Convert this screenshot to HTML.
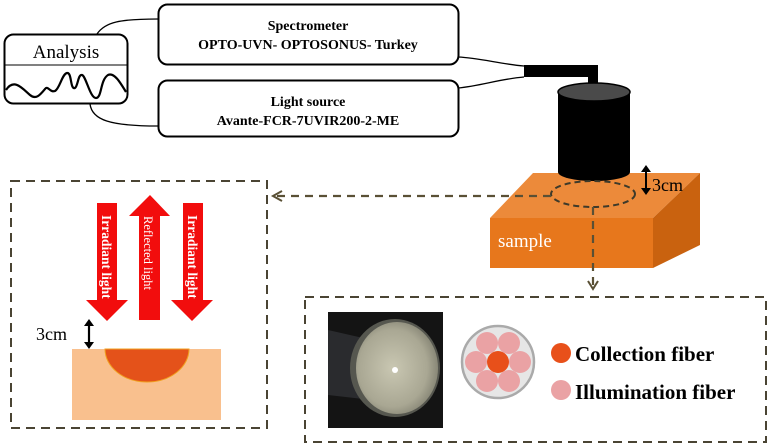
<!DOCTYPE html>
<html><head><meta charset="utf-8"><style>
html,body{margin:0;padding:0;background:#fff;}
svg{display:block;}
</style></head><body>
<svg width="772" height="448" viewBox="0 0 772 448" xmlns="http://www.w3.org/2000/svg">
<defs>
<radialGradient id="face" cx="0.45" cy="0.5" r="0.6">
<stop offset="0" stop-color="#c9c7b2"/><stop offset="0.7" stop-color="#a9a793"/><stop offset="1" stop-color="#7c7b6c"/>
</radialGradient>
</defs>
<path d="M97 34 C105 22,120 19,158 19" fill="none" stroke="#000" stroke-width="1.3"/>
<path d="M90 104 C92 120,110 126,158 126" fill="none" stroke="#000" stroke-width="1.3"/>
<path d="M458 57 C480 58,500 64,524 66" fill="none" stroke="#000" stroke-width="1.3"/>
<path d="M458 88 C480 86,500 79,524 77" fill="none" stroke="#000" stroke-width="1.3"/>
<rect x="4.5" y="34.5" width="123" height="69" rx="9" fill="#fff" stroke="#000" stroke-width="2"/>
<line x1="5" y1="65" x2="127" y2="65" stroke="#000" stroke-width="1"/>
<text x="66" y="58" font-family="Liberation Serif, serif" font-size="19" text-anchor="middle">Analysis</text>
<path d="M6 90 C14 78,22 88,30 95 C36 100,40 95,45 89 C48 85,50 93,55 91 C60 88,62 74,67 73 C72 72,70 90,75 88 C78 86,78 74,82 75 C86 76,90 98,96 98 C102 98,100 80,108 75 C114 72,120 82,126 92" fill="none" stroke="#000" stroke-width="2.2"/>
<rect x="158.5" y="4.5" width="300" height="60" rx="9" fill="#fff" stroke="#000" stroke-width="2"/>
<text x="308" y="30" font-family="Liberation Serif, serif" font-size="14" font-weight="bold" text-anchor="middle">Spectrometer</text>
<text x="308" y="49" font-family="Liberation Serif, serif" font-size="14" font-weight="bold" text-anchor="middle">OPTO-UVN- OPTOSONUS- Turkey</text>
<rect x="158.5" y="80.5" width="300" height="56" rx="9" fill="#fff" stroke="#000" stroke-width="2"/>
<text x="308" y="106" font-family="Liberation Serif, serif" font-size="14" font-weight="bold" text-anchor="middle">Light source</text>
<text x="308" y="125" font-family="Liberation Serif, serif" font-size="14" font-weight="bold" text-anchor="middle">Avante-FCR-7UVIR200-2-ME</text>
<rect x="524" y="65" width="74" height="12" fill="#000"/>
<rect x="588" y="65" width="10" height="27" fill="#000"/>
<polygon points="490,218 533,173 700,173 653,218" fill="#ec8a3a"/>
<polygon points="653,218 700,173 700,245 653,268" fill="#c9620f"/>
<rect x="490" y="218" width="163" height="50" fill="#e7771c"/>
<text x="498" y="247" font-family="Liberation Serif, serif" font-size="19" fill="#fff">sample</text>
<path d="M558 92 L558 172 A36 9 0 0 0 630 172 L630 92 Z" fill="#000"/>
<ellipse cx="594" cy="92" rx="36" ry="9" fill="#4a4a4a" stroke="#000" stroke-width="1.5"/>
<line x1="646" y1="170" x2="646" y2="190" stroke="#000" stroke-width="2"/>
<polygon points="641,172 651,172 646,165" fill="#000"/>
<polygon points="641,188 651,188 646,195" fill="#000"/>
<text x="652" y="191" font-family="Liberation Serif, serif" font-size="18">3cm</text>
<ellipse cx="593" cy="194" rx="42" ry="13" fill="none" stroke="#3e3a2a" stroke-width="2" stroke-dasharray="6,4"/>
<line x1="551" y1="196" x2="272" y2="196" stroke="#5a5035" stroke-width="2.2" stroke-dasharray="8,6"/>
<polyline points="282,191 273,196 282,201" fill="none" stroke="#5a5035" stroke-width="2"/>
<line x1="593" y1="207" x2="593" y2="285" stroke="#5a5035" stroke-width="2.2" stroke-dasharray="8,6"/>
<polyline points="588,281 593,289 598,281" fill="none" stroke="#5a5035" stroke-width="2"/>
<rect x="11" y="181" width="256" height="247" fill="none" stroke="#4a4433" stroke-width="2" stroke-dasharray="9,6"/>
<polygon points="97,203 117,203 117,300 128,300 107,321 86,300 97,300" fill="#f20d0d"/>
<polygon points="183,203 203,203 203,300 213,300 192,321 171,300 183,300" fill="#f20d0d"/>
<polygon points="150,195 170,216 160,216 160,320 139,320 139,216 129,216" fill="#f20d0d"/>
<g font-family="Liberation Serif, serif" font-weight="bold" font-size="13.5" fill="#fff">
<text transform="translate(102,215) rotate(90)">Irradiant light</text>
<text transform="translate(188,215) rotate(90)">Irradiant light</text>
<text transform="translate(144,216) rotate(90)" font-weight="normal" font-size="12.5">Reflected light</text>
</g>
<text x="36" y="340" font-family="Liberation Serif, serif" font-size="18">3cm</text>
<line x1="89" y1="324" x2="89" y2="344" stroke="#000" stroke-width="2.2"/>
<polygon points="84,326 94,326 89,319" fill="#000"/>
<polygon points="84,342 94,342 89,349" fill="#000"/>
<rect x="72" y="349" width="149" height="71" fill="#f9c08e"/>
<path d="M105 349 A42 33 0 0 0 189 349 Z" fill="#e4521a" stroke="#f0a020" stroke-width="1"/>
<rect x="305" y="297" width="461" height="145" fill="none" stroke="#4a4433" stroke-width="2" stroke-dasharray="9,6"/>
<rect x="328" y="312" width="115" height="116" fill="#141414"/>
<path d="M328 330 L372 340 L372 400 L328 395 Z" fill="#2a2b2e"/>
<ellipse cx="395" cy="368" rx="45" ry="49" fill="#56574f"/>
<ellipse cx="397" cy="368" rx="41" ry="46" fill="url(#face)"/>
<circle cx="395" cy="370" r="3" fill="#fff"/>
<circle cx="498" cy="362" r="36" fill="#e6e6e6" stroke="#aaa" stroke-width="2.5"/>
<g fill="#eaa2a4">
<circle cx="509" cy="343" r="11"/><circle cx="487" cy="343" r="11"/>
<circle cx="476" cy="362" r="11"/><circle cx="520" cy="362" r="11"/>
<circle cx="487" cy="381" r="11"/><circle cx="509" cy="381" r="11"/>
</g>
<circle cx="498" cy="362" r="11" fill="#e8501a"/>
<circle cx="561" cy="353" r="10" fill="#e8501a"/>
<circle cx="561" cy="390" r="10" fill="#eaa2a4"/>
<text x="575" y="361" font-family="Liberation Serif, serif" font-size="21" font-weight="bold">Collection fiber</text>
<text x="575" y="399" font-family="Liberation Serif, serif" font-size="21" font-weight="bold">Illumination fiber</text>
</svg>
</body></html>
